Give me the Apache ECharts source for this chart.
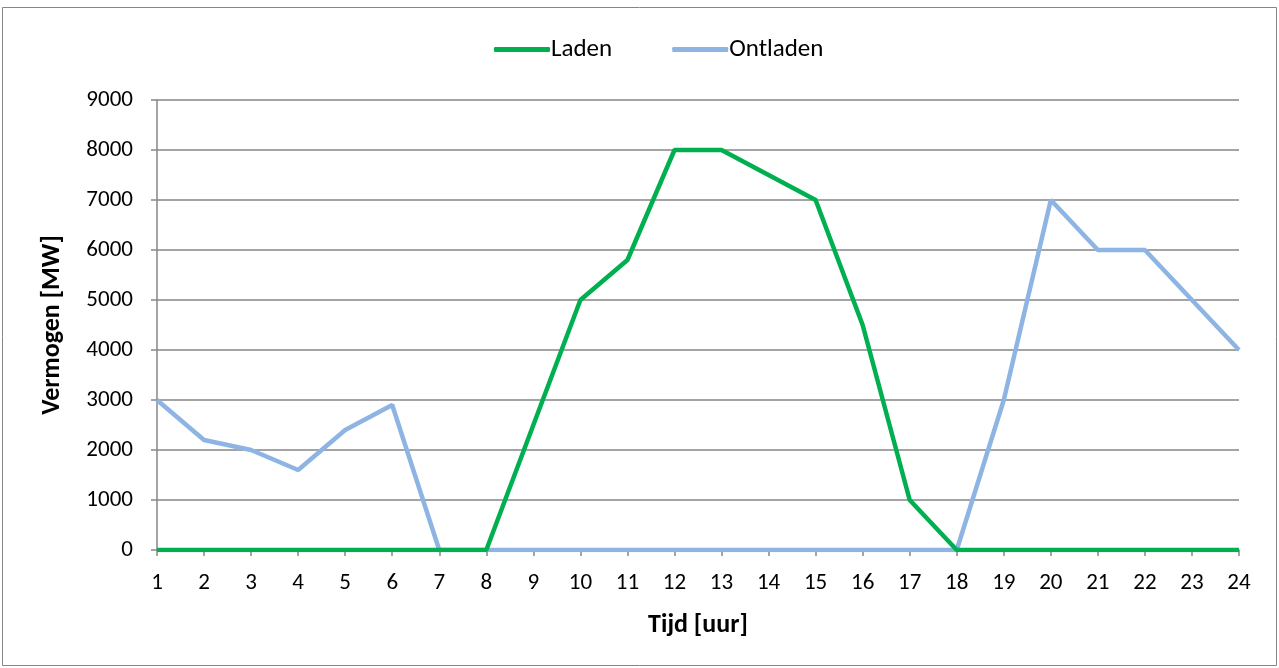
<!DOCTYPE html>
<html>
<head>
<meta charset="utf-8">
<script src="https://cdn.jsdelivr.net/npm/echarts@6/dist/echarts.min.js"></script>
<style>
  html, body { margin: 0; padding: 0; background: #fff; }
  #chart { width: 1279px; height: 668px; }
</style>
</head>
<body>
<div id="chart"></div>
<script>
// uren van de dag
const hours = ["1","2","3","4","5","6","7","8","9","10","11","12","13","14","15","16","17","18","19","20","21","22","23","24"];
const laden = [0,0,0,0,0,0,0,0,2500,5000,5800,8000,8000,7500,7000,4500,1000,0,0,0,0,0,0,0];
const ontladen = [3000,2200,2000,1600,2400,2900,0,0,0,0,0,0,0,0,0,0,0,0,3000,7000,6000,6000,5000,4000];

const font = "Carlito, 'Liberation Sans', sans-serif";
const grey = "#868686";

const chart = echarts.init(document.getElementById("chart"));
chart.setOption({
  animation: false,
  textStyle: { fontFamily: font },
  graphic: [{
    type: "rect",
    shape: { x: 2.5, y: 7.5, width: 1274, height: 658 },
    style: { fill: "none", stroke: grey, lineWidth: 1 },
    silent: true
  }],
  legend: {
    top: 32,
    left: 489,
    itemWidth: 56,
    itemHeight: 5,
    itemGap: 60,
    icon: "roundRect",
    textStyle: { fontSize: 25, color: "#000", fontFamily: font, padding: [0, 0, 0, -4] },
    data: ["Laden", "Ontladen"]
  },
  grid: { left: 157, right: 40, top: 100, bottom: 118 },
  xAxis: {
    type: "category",
    data: hours,
    boundaryGap: false,
    name: "Tijd [uur]",
    nameLocation: "middle",
    nameGap: 62,
    nameTextStyle: { fontSize: 26, fontWeight: "bold", color: "#000", fontFamily: font },
    axisLine: { lineStyle: { color: grey, width: 1.5 } },
    axisTick: { show: true, length: 6, interval: 0, lineStyle: { color: grey, width: 1.5 } },
    axisLabel: { fontSize: 23, color: "#000", margin: 22, interval: 0, fontFamily: font }
  },
  yAxis: {
    type: "value",
    min: 0,
    max: 9000,
    interval: 1000,
    name: "Vermogen [MW]",
    nameLocation: "middle",
    nameGap: 92,
    nameTextStyle: { fontSize: 26, fontWeight: "bold", color: "#000", fontFamily: font },
    axisLine: { show: true, lineStyle: { color: grey, width: 1.5 } },
    axisTick: { show: true, length: 6, lineStyle: { color: grey, width: 1.5 } },
    axisLabel: { fontSize: 23, color: "#000", margin: 24, fontFamily: font, formatter: v => String(v) },
    splitLine: { lineStyle: { color: grey, width: 1.5 } }
  },
  series: [
    {
      name: "Ontladen",
      type: "line",
      data: ontladen,
      symbol: "none",
      lineStyle: { color: "#8DB4E2", width: 4.5 },
      itemStyle: { color: "#8DB4E2" },
      z: 2
    },
    {
      name: "Laden",
      type: "line",
      data: laden,
      symbol: "none",
      lineStyle: { color: "#00B050", width: 4.5 },
      itemStyle: { color: "#00B050" },
      z: 3
    }
  ]
});
</script>
</body>
</html>
